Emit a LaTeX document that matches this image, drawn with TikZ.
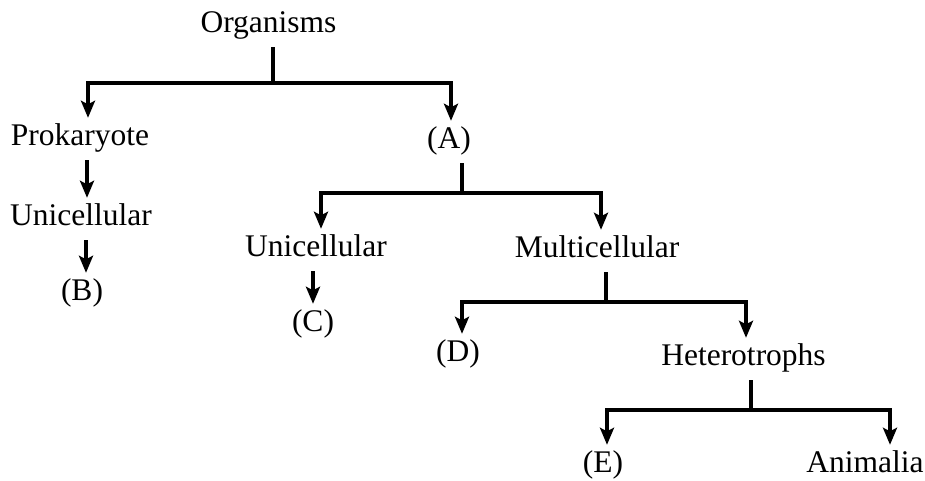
\documentclass[tikz,border=0pt]{standalone}
\usepackage{fontspec}
\setmainfont{Liberation Serif}
\usetikzlibrary{arrows.meta}
\begin{document}
\begin{tikzpicture}[x=1pt,y=-1pt,
  lbl/.style={anchor=base,inner xsep=0pt,inner ysep=4pt,text height=23pt,text depth=11pt,
    font=\fontsize{31.5}{38}\selectfont},
  ln/.style={line width=3.3pt,line join=miter},
  arr/.style={ln,-{Stealth[length=17pt,width=14pt,inset=3.5pt]}}]
\useasboundingbox (0,0) rectangle (925,480);
\node[lbl] (org)   at (268.5,32) {Organisms};
\node[lbl] (prok)  at (80,145)   {Prokaryote};
\node[lbl] (A)     at (449,148)  {(A)};
\node[lbl] (ucL)   at (81,225)   {Unicellular};
\node[lbl] (B)     at (82,300)   {(B)};
\node[lbl] (ucM)   at (316,256)  {Unicellular};
\node[lbl] (multi) at (597,257)  {Multicellular};
\node[lbl] (C)     at (313,331)  {(C)};
\node[lbl] (D)     at (458,361)  {(D)};
\node[lbl] (het)   at (743.5,365) {Heterotrophs};
\node[lbl] (E)     at (603,472)  {(E)};
\node[lbl] (anim)  at (865,472)  {Animalia};
\coordinate (j1) at (273,83);
\coordinate (j2) at (462,193);
\coordinate (j3) at (606,302);
\coordinate (j4) at (751,410);
% Organisms
\draw[ln] (j1 |- org.south) -- (j1);
\draw[arr] (j1) -| ([xshift=8pt]prok.north);
\draw[arr] (j1) -| ([xshift=2pt]A.north);
% Prokaryote chain
\draw[arr] ([xshift=7pt]prok.south) -- ([xshift=7pt]prok.south |- ucL.north);
\draw[arr] ([xshift=5pt]ucL.south) -- ([xshift=5pt]ucL.south |- B.north);
% (A)
\draw[ln] (j2 |- A.south) -- (j2);
\draw[arr] (j2) -| ([xshift=5pt]ucM.north);
\draw[arr] (j2) -| ([xshift=4pt]multi.north);
\draw[arr] ([xshift=-3pt]ucM.south) -- ([xshift=-3pt]ucM.south |- C.north);
% Multicellular
\draw[ln] (j3 |- multi.south) -- (j3);
\draw[arr] (j3) -| ([xshift=4pt]D.north);
\draw[arr] (j3) -| ([xshift=2.5pt]het.north);
% Heterotrophs
\draw[ln] (j4 |- het.south) -- (j4);
\draw[arr] (j4) -| ([xshift=4pt]E.north);
\draw[arr] (j4) -| ([xshift=25pt]anim.north);
\end{tikzpicture}
\end{document}
